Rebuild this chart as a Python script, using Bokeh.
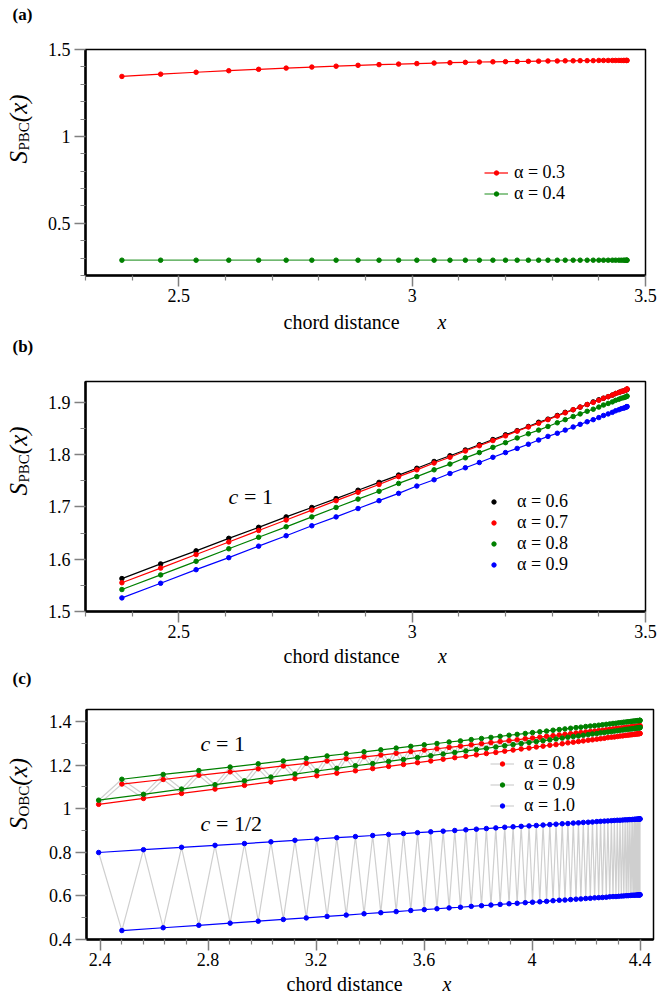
import math
from bokeh.plotting import figure
from bokeh.layouts import column, row
from bokeh.models import (Range1d, FixedTicker, NumeralTickFormatter, Label,
                          Legend, LegendItem)
from bokeh.embed import file_html
from bokeh.resources import INLINE

FONT = "Liberation Serif"

# ---------------- data: panels (a) and (b), PBC ----------------
x_pbc = [2.378, 2.461, 2.537, 2.607, 2.671, 2.730, 2.785, 2.837, 2.884, 2.929,
         2.971, 3.010, 3.047, 3.081, 3.114, 3.144, 3.173, 3.200, 3.225, 3.249,
         3.271, 3.291, 3.311, 3.328, 3.345, 3.360, 3.375, 3.388, 3.400, 3.410,
         3.420, 3.429, 3.436, 3.443, 3.448, 3.453, 3.456, 3.459, 3.460, 3.4605]

pbc_a03 = [1.345, 1.358, 1.369, 1.378, 1.386, 1.393, 1.399, 1.404, 1.409, 1.413,
           1.416, 1.419, 1.422, 1.424, 1.426, 1.428, 1.429, 1.430, 1.431, 1.432,
           1.433, 1.434, 1.434, 1.435, 1.435, 1.436, 1.436, 1.436, 1.437, 1.437,
           1.437, 1.437, 1.437, 1.437, 1.437, 1.437, 1.437, 1.437, 1.437, 1.437]
pbc_a04 = [0.288, 0.288, 0.288, 0.288, 0.288, 0.288, 0.288, 0.288, 0.288, 0.288,
           0.288, 0.288, 0.288, 0.288, 0.288, 0.288, 0.288, 0.288, 0.288, 0.288,
           0.288, 0.288, 0.288, 0.288, 0.288, 0.288, 0.288, 0.288, 0.288, 0.288,
           0.288, 0.288, 0.288, 0.288, 0.288, 0.288, 0.288, 0.288, 0.288, 0.288]

pbc_a06 = [1.563, 1.591, 1.616, 1.640, 1.661, 1.681, 1.699, 1.716, 1.732, 1.747,
           1.761, 1.774, 1.787, 1.798, 1.809, 1.819, 1.829, 1.838, 1.846, 1.854,
           1.862, 1.868, 1.875, 1.881, 1.886, 1.891, 1.896, 1.901, 1.905, 1.908,
           1.911, 1.914, 1.917, 1.919, 1.921, 1.922, 1.923, 1.924, 1.925, 1.925]
pbc_a07 = [1.555, 1.583, 1.609, 1.633, 1.655, 1.675, 1.694, 1.712, 1.728, 1.743,
           1.758, 1.771, 1.784, 1.795, 1.807, 1.817, 1.827, 1.836, 1.845, 1.853,
           1.860, 1.867, 1.874, 1.880, 1.886, 1.891, 1.896, 1.900, 1.904, 1.908,
           1.911, 1.914, 1.917, 1.919, 1.921, 1.922, 1.923, 1.924, 1.925, 1.926]
pbc_a08 = [1.542, 1.570, 1.596, 1.620, 1.642, 1.662, 1.681, 1.699, 1.715, 1.730,
           1.745, 1.758, 1.771, 1.782, 1.794, 1.804, 1.814, 1.823, 1.832, 1.840,
           1.847, 1.854, 1.861, 1.867, 1.873, 1.878, 1.883, 1.887, 1.891, 1.895,
           1.898, 1.901, 1.904, 1.906, 1.908, 1.909, 1.910, 1.911, 1.912, 1.912]
pbc_a09 = [1.526, 1.554, 1.580, 1.603, 1.625, 1.645, 1.664, 1.681, 1.697, 1.712,
           1.726, 1.740, 1.752, 1.764, 1.775, 1.785, 1.795, 1.804, 1.812, 1.820,
           1.828, 1.835, 1.841, 1.847, 1.853, 1.858, 1.863, 1.867, 1.871, 1.875,
           1.878, 1.881, 1.884, 1.886, 1.888, 1.889, 1.890, 1.891, 1.892, 1.892]

# ---------------- data: panel (c), OBC (odd / even subsystem sizes) ----------------
x_obc_odd = [2.395, 2.561, 2.702, 2.826, 2.935, 3.033, 3.122, 3.203, 3.277, 3.346,
             3.410, 3.469, 3.524, 3.576, 3.625, 3.671, 3.714, 3.755, 3.794, 3.831,
             3.866, 3.899, 3.930, 3.960, 3.989, 4.016, 4.041, 4.066, 4.089, 4.112,
             4.133, 4.153, 4.172, 4.190, 4.208, 4.224, 4.240, 4.254, 4.268, 4.281,
             4.294, 4.305, 4.316, 4.326, 4.336, 4.345, 4.353, 4.360, 4.367, 4.373,
             4.379, 4.383, 4.388, 4.391, 4.394, 4.397, 4.399, 4.400, 4.400]
x_obc_even = [2.481, 2.634, 2.766, 2.882, 2.986, 3.079, 3.164, 3.241, 3.312, 3.378,
              3.440, 3.497, 3.551, 3.601, 3.648, 3.693, 3.735, 3.775, 3.813, 3.848,
              3.882, 3.915, 3.945, 3.975, 4.002, 4.029, 4.054, 4.078, 4.101, 4.122,
              4.143, 4.163, 4.181, 4.199, 4.216, 4.232, 4.247, 4.261, 4.275, 4.288,
              4.300, 4.311, 4.321, 4.331, 4.340, 4.349, 4.356, 4.364, 4.370, 4.376,
              4.381, 4.386, 4.390, 4.393, 4.396, 4.398, 4.399, 4.400, 4.400]

obc_a08_odd = [1.020, 1.047, 1.070, 1.090, 1.107, 1.123, 1.138, 1.151, 1.163, 1.174,
               1.184, 1.194, 1.203, 1.211, 1.219, 1.227, 1.234, 1.240, 1.247, 1.253,
               1.258, 1.264, 1.269, 1.274, 1.278, 1.283, 1.287, 1.291, 1.294, 1.298,
               1.302, 1.305, 1.308, 1.311, 1.314, 1.316, 1.319, 1.321, 1.323, 1.326,
               1.328, 1.329, 1.331, 1.333, 1.334, 1.336, 1.337, 1.338, 1.339, 1.340,
               1.341, 1.342, 1.343, 1.343, 1.344, 1.344, 1.345, 1.345, 1.345]
obc_a08_even = [1.113, 1.134, 1.153, 1.169, 1.183, 1.196, 1.208, 1.219, 1.229, 1.238,
                1.246, 1.254, 1.262, 1.269, 1.275, 1.281, 1.287, 1.293, 1.298, 1.303,
                1.308, 1.312, 1.316, 1.321, 1.324, 1.328, 1.332, 1.335, 1.338, 1.341,
                1.344, 1.347, 1.349, 1.352, 1.354, 1.356, 1.358, 1.360, 1.362, 1.364,
                1.366, 1.367, 1.369, 1.370, 1.371, 1.373, 1.374, 1.375, 1.376, 1.376,
                1.377, 1.378, 1.378, 1.379, 1.379, 1.379, 1.380, 1.380, 1.380]
obc_a09_odd = [1.039, 1.066, 1.090, 1.110, 1.128, 1.145, 1.159, 1.173, 1.185, 1.197,
               1.207, 1.217, 1.226, 1.235, 1.243, 1.251, 1.258, 1.265, 1.271, 1.277,
               1.283, 1.289, 1.294, 1.299, 1.304, 1.308, 1.312, 1.316, 1.320, 1.324,
               1.328, 1.331, 1.334, 1.337, 1.340, 1.343, 1.345, 1.348, 1.350, 1.352,
               1.354, 1.356, 1.358, 1.360, 1.361, 1.363, 1.364, 1.365, 1.366, 1.367,
               1.368, 1.369, 1.370, 1.370, 1.371, 1.371, 1.372, 1.372, 1.372]
obc_a09_even = [1.135, 1.157, 1.175, 1.191, 1.206, 1.219, 1.231, 1.242, 1.252, 1.261,
                1.270, 1.278, 1.286, 1.293, 1.299, 1.306, 1.311, 1.317, 1.322, 1.327,
                1.332, 1.337, 1.341, 1.345, 1.349, 1.353, 1.356, 1.360, 1.363, 1.366,
                1.369, 1.372, 1.374, 1.377, 1.379, 1.381, 1.383, 1.385, 1.387, 1.389,
                1.391, 1.392, 1.394, 1.395, 1.397, 1.398, 1.399, 1.400, 1.401, 1.402,
                1.402, 1.403, 1.404, 1.404, 1.404, 1.405, 1.405, 1.405, 1.405]
obc_a10_odd = [0.799, 0.812, 0.823, 0.832, 0.840, 0.848, 0.855, 0.861, 0.867, 0.872,
               0.877, 0.882, 0.886, 0.890, 0.894, 0.897, 0.900, 0.903, 0.906, 0.909,
               0.912, 0.915, 0.917, 0.919, 0.921, 0.923, 0.925, 0.927, 0.929, 0.931,
               0.932, 0.934, 0.935, 0.937, 0.938, 0.939, 0.941, 0.942, 0.943, 0.944,
               0.945, 0.946, 0.947, 0.947, 0.948, 0.949, 0.949, 0.950, 0.950, 0.951,
               0.951, 0.952, 0.952, 0.952, 0.953, 0.953, 0.953, 0.953, 0.953]
obc_a10_even = [0.441, 0.454, 0.465, 0.475, 0.484, 0.492, 0.499, 0.506, 0.512, 0.518,
                0.523, 0.528, 0.533, 0.537, 0.541, 0.545, 0.548, 0.552, 0.555, 0.558,
                0.561, 0.564, 0.566, 0.569, 0.571, 0.573, 0.575, 0.578, 0.580, 0.581,
                0.583, 0.585, 0.586, 0.588, 0.589, 0.591, 0.592, 0.593, 0.594, 0.596,
                0.597, 0.597, 0.598, 0.599, 0.600, 0.601, 0.601, 0.602, 0.603, 0.603,
                0.603, 0.604, 0.604, 0.604, 0.605, 0.605, 0.605, 0.605, 0.605]

# tick values
a_xticks = [2.5, 3, 3.5]
a_xminor = [2.3, 2.4, 2.6, 2.7, 2.8, 2.9, 3.1, 3.2, 3.3, 3.4]
a_yticks = [0.5, 1, 1.5]
a_yminor = [0.2, 0.3, 0.4, 0.6, 0.7, 0.8, 0.9, 1.1, 1.2, 1.3, 1.4]
b_yticks = [1.5, 1.6, 1.7, 1.8, 1.9]
b_yminor = [1.55, 1.65, 1.75, 1.85]
c_xticks = [2.4, 2.8, 3.2, 3.6, 4, 4.4]
c_xminor = [2.48, 2.56, 2.64, 2.72, 2.88, 2.96, 3.04, 3.12, 3.28, 3.36, 3.44,
            3.52, 3.68, 3.76, 3.84, 3.92, 4.08, 4.16, 4.24, 4.32]
c_yticks = [0.4, 0.6, 0.8, 1, 1.2, 1.4]
c_yminor = [0.5, 0.7, 0.9, 1.1, 1.3]

RED, GREEN, BLUE, BLACK, GREY = "#ff0000", "#008000", "#0000ff", "#000000", "#cfcfcf"
MS = 4.5
LW = 1.2
TOTAL_W = 662
YLAB_W = 43


def make_fig(xr, yr, fw, fh, left, right, top, xt, xmt, yt, ymt):
    p = figure(frame_width=fw, frame_height=fh,
               x_range=Range1d(*xr), y_range=Range1d(*yr),
               output_backend="svg", toolbar_location=None,
               min_border_left=left, min_border_top=top,
               min_border_bottom=33, min_border_right=right)
    p.xgrid.visible = False
    p.ygrid.visible = False
    p.background_fill_color = "white"
    p.border_fill_color = "white"
    p.outline_line_color = "black"
    p.outline_line_width = 1.5
    p.outline_line_alpha = 1.0
    for ax in (p.xaxis[0], p.yaxis[0]):
        ax.axis_line_color = "black"
        ax.axis_line_width = 2.5
        ax.major_tick_line_color = "#808080"
        ax.major_tick_line_width = 1.5
        ax.minor_tick_line_color = "#808080"
        ax.minor_tick_line_width = 1.2
        ax.major_tick_in = 0
        ax.major_tick_out = 11
        ax.minor_tick_in = 0
        ax.minor_tick_out = 5
        ax.major_label_text_font = FONT
        ax.major_label_text_font_size = "18px"
        ax.major_label_text_color = "black"
        ax.formatter = NumeralTickFormatter(format="0.[0]")
    p.xaxis[0].ticker = FixedTicker(ticks=xt, minor_ticks=xmt)
    p.yaxis[0].ticker = FixedTicker(ticks=yt, minor_ticks=ymt)
    p.xaxis[0].major_label_standoff = 2
    p.yaxis[0].major_label_standoff = 4
    return p


def strip(w, h):
    s = figure(width=w, height=h, x_range=Range1d(0, w), y_range=Range1d(0, h),
               x_axis_location=None, y_axis_location=None, min_border=0,
               toolbar_location=None, output_backend="svg")
    s.grid.visible = False
    s.outline_line_color = None
    s.background_fill_color = "white"
    s.border_fill_color = "white"
    return s


def txt(p, s, x, y, size, style="normal", angle=0.0):
    # (x, y) is the wanted baseline start; compensate the label's own
    # vertical placement (about a third of the font size)
    d = 0.3375 * size
    if angle:
        x = x - d
    else:
        y = y + d
    p.add_layout(Label(x=x, y=y, x_units="screen", y_units="screen", text=s,
                       text_font=FONT, text_font_size=f"{size}px",
                       text_font_style=style, angle=angle,
                       text_align="left", text_baseline="alphabetic",
                       text_color="black"))


def ylabel(p, sub, x0, y0, sub_w):
    r = math.pi / 2
    txt(p, "S", x0, y0, 25, "italic", r)
    txt(p, sub, x0 + 3, y0 + 13, 15, "normal", r)
    txt(p, "(x)", x0, y0 + 13 + sub_w, 25, "italic", r)


def xlabel(p, x0, y0, xx):
    txt(p, "chord distance", x0, y0, 20)
    txt(p, "x", xx, y0, 20, "italic")


def style_legend(lg, gw, gh, lh, standoff):
    lg.background_fill_alpha = 0
    lg.border_line_alpha = 0
    lg.padding = 0
    lg.margin = 0
    lg.spacing = 0
    lg.glyph_width = gw
    lg.glyph_height = gh
    lg.label_height = lh
    lg.label_standoff = standoff
    lg.label_text_font = FONT
    lg.label_text_font_size = "18px"
    lg.label_text_color = "black"


# ---------------- panel (a) ----------------
pa = make_fig((2.3, 3.5), (0.2, 1.5), 560, 226, 42, 17, 11,
              a_xticks, a_xminor, a_yticks, a_yminor)
la1 = pa.line(x_pbc, pbc_a03, line_color=RED, line_width=LW)
sa1 = pa.scatter(x_pbc, pbc_a03, size=MS, color=RED)
la2 = pa.line(x_pbc, pbc_a04, line_color=GREEN, line_width=LW, line_alpha=0.75)
sa2 = pa.scatter(x_pbc, pbc_a04, size=MS, color=GREEN)
lga = Legend(items=[LegendItem(label="α = 0.3", renderers=[la1, sa1]),
                    LegendItem(label="α = 0.4", renderers=[la2, sa2])],
             location=(399, 71))
style_legend(lga, 24, 11, 19, 6)
pa.add_layout(lga)

# ---------------- panel (b) ----------------
pb = make_fig((2.3, 3.5), (1.5, 1.94), 560, 230, 42, 17, 2,
              a_xticks, a_xminor, b_yticks, b_yminor)
items_b = []
for ys, col, lab in ((pbc_a06, BLACK, "α = 0.6"), (pbc_a07, RED, "α = 0.7"),
                     (pbc_a08, GREEN, "α = 0.8"), (pbc_a09, BLUE, "α = 0.9")):
    pb.line(x_pbc, ys, line_color=col, line_width=LW)
    sr = pb.scatter(x_pbc, ys, size=MS, color=col)
    items_b.append(LegendItem(label=lab, renderers=[sr]))
lgb = Legend(items=items_b, location=(403, 36))
style_legend(lgb, 11, 11, 19, 18)
pb.add_layout(lgb)
txt(pb, "c", 143, 107.7, 22, "italic")
txt(pb, "= 1", 158.5, 107.7, 22)

# ---------------- panel (c) ----------------
pc = make_fig((2.35, 4.45), (0.4, 1.455), 567, 230, 43, 9, 2,
              c_xticks, c_xminor, c_yticks, c_yminor)
series_c = [(obc_a08_odd, obc_a08_even, RED, "α = 0.8"),
            (obc_a09_odd, obc_a09_even, GREEN, "α = 0.9"),
            (obc_a10_odd, obc_a10_even, BLUE, "α = 1.0")]
zig = []
for yo, ye, col, lab in series_c:
    xs = [v for pair in zip(x_obc_odd, x_obc_even) for v in pair]
    ys = [v for pair in zip(yo, ye) for v in pair]
    zig.append(pc.line(xs, ys, line_color=GREY, line_width=1.2))
for yo, ye, col, lab in series_c:
    pc.line(x_obc_odd, yo, line_color=col, line_width=LW)
    pc.line(x_obc_even, ye, line_color=col, line_width=LW)
items_c = []
for (yo, ye, col, lab), zr in zip(series_c, zig):
    s1 = pc.scatter(x_obc_odd, yo, size=MS, color=col)
    pc.scatter(x_obc_even, ye, size=MS, color=col)
    items_c.append(LegendItem(label=lab, renderers=[zr, s1]))
lgc = Legend(items=items_c, location=(404, 123))
style_legend(lgc, 24, 11, 20, 10)
pc.add_layout(lgc)
txt(pc, "c", 114, 188.4, 22, "italic")
txt(pc, "= 1", 129.5, 188.4, 22)
txt(pc, "c", 114, 108.4, 22, "italic")
txt(pc, "= 1/2", 129.5, 108.4, 22)

# ---------------- text strips around the panels ----------------
top = strip(TOTAL_W, 38)
txt(top, "(a)", 12, 18, 17, "bold")

ya = strip(YLAB_W, 270)
ylabel(ya, "PBC", 26, 112, 28.3)

ab = strip(TOTAL_W, 71)
xlabel(ab, 283, 51, 437)
txt(ab, "(b)", 12, 27, 17, "bold")

yb = strip(YLAB_W, 265)
ylabel(yb, "PBC", 26, 116, 28.3)

bc = strip(TOTAL_W, 63)
xlabel(bc, 283, 44.5, 437.5)
txt(bc, "(c)", 12, 23, 17, "bold")

yc = strip(YLAB_W, 265)
ylabel(yc, "OBC", 26, 110, 30.8)

bottom = strip(TOTAL_W, 23)
xlabel(bottom, 286, 4.5, 442)

layout = column(top, row(ya, pa), ab, row(yb, pb), bc, row(yc, pc), bottom)
open("out.html", "w").write(file_html(layout, INLINE))
